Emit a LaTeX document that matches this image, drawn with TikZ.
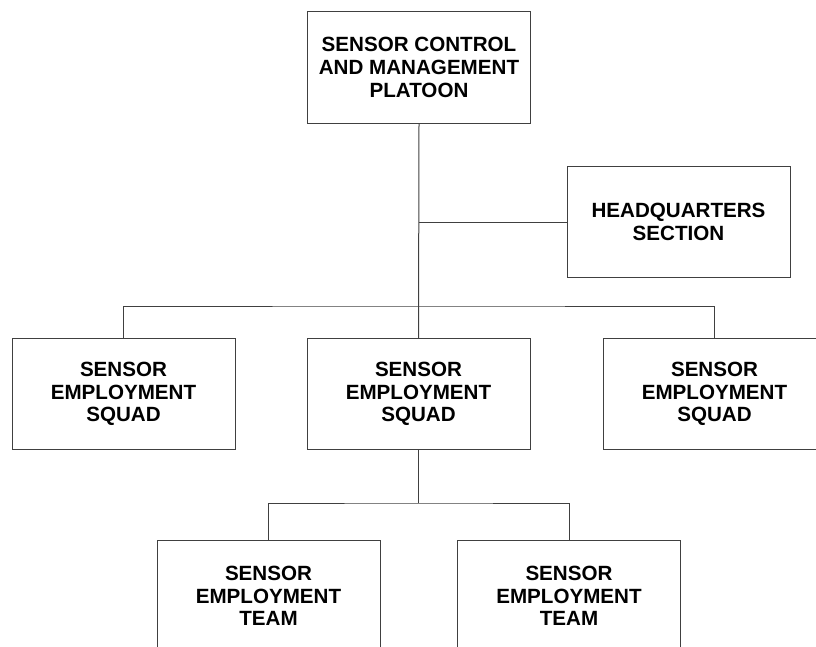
\documentclass[tikz,border=0pt]{standalone}
\usepackage{fontspec}
\setmainfont{Liberation Sans}
\begin{document}
\begin{tikzpicture}[x=1pt,y=-1pt,
  unit/.style={draw=black!75, line width=1pt, fill=white, rectangle,
    minimum width=223pt, minimum height=111.5pt, inner sep=0pt,
    align=center, font=\fontsize{20.6}{22.8}\selectfont\bfseries},
  link/.style={draw=black!75, line width=1pt}]
\useasboundingbox (0,0) rectangle (816,647);
\clip (0,0) rectangle (816,647);
\node[unit] (top) at (419,67.5) {SENSOR CONTROL\\AND MANAGEMENT\\PLATOON};
\node[unit] (hq) at (678.5,222) {HEADQUARTERS\\SECTION};
\node[unit] (sq1) at (123.5,394) {SENSOR\\EMPLOYMENT\\SQUAD};
\node[unit] (sq2) at (418.5,394) {SENSOR\\EMPLOYMENT\\SQUAD};
\node[unit] (sq3) at (714.5,394) {SENSOR\\EMPLOYMENT\\SQUAD};
\node[unit] (tm1) at (268.5,596) {SENSOR\\EMPLOYMENT\\TEAM};
\node[unit] (tm2) at (569,596) {SENSOR\\EMPLOYMENT\\TEAM};
\coordinate (bus) at (418.5,306);
\coordinate (bus2) at (418.5,503);
\draw[link] (top.south) -- (sq2.north);
\draw[link] (top.south |- hq.west) -- (hq.west);
\draw[link] (sq1.north) |- (bus) -| (sq3.north);
\draw[link] (sq2.south) -- (bus2);
\draw[link] (tm1.north) |- (bus2) -| (tm2.north);
\end{tikzpicture}
\end{document}
